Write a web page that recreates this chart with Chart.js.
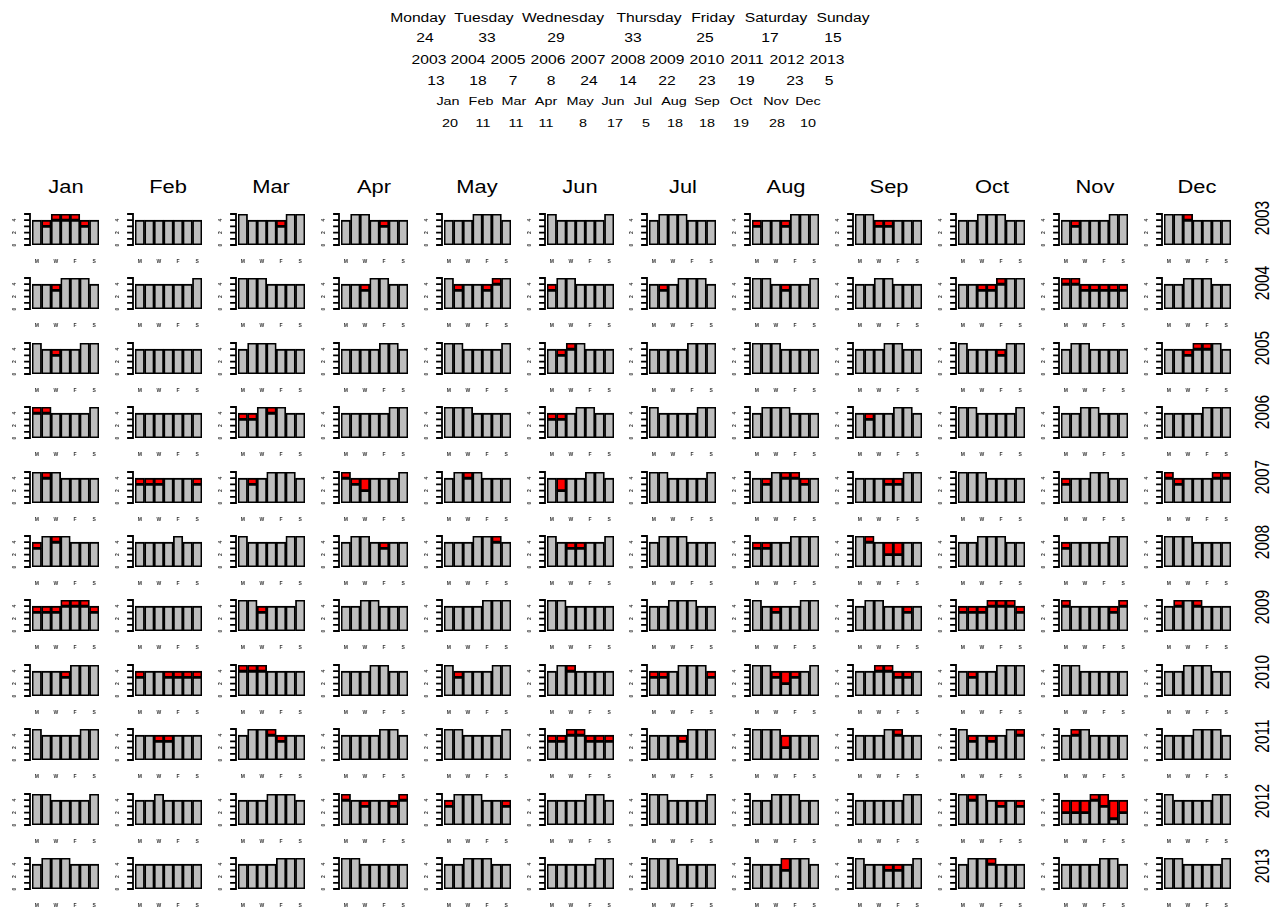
<!DOCTYPE html>
<html>
<head>
<meta charset="utf-8">
<script src="https://cdn.jsdelivr.net/npm/chart.js@4.4.1/dist/chart.umd.min.js"></script>
<style>
  body { margin: 0; background: #fff; }
  #page { position: relative; width: 1278px; height: 909px; font-family: "Liberation Sans", Arial, sans-serif; color: #000; }
  #page canvas { position: absolute; }
  .lbl { position: absolute; white-space: nowrap; transform: translate(-50%, -50%) scaleX(1.25); line-height: 1; }
  .head { font-size: 12.5px; }
  .small { font-size: 11.5px; }
  .month { font-size: 17.5px; }
  .year { font-size: 15.5px; transform: translate(-50%, -50%) scaleX(1.25) rotate(-90deg); }
</style>
</head>
<body>
<div id="page"></div>
<script>
const dayNames = ['Monday', 'Tuesday', 'Wednesday', 'Thursday', 'Friday', 'Saturday', 'Sunday'];
const dayLetters = ['M', 'T', 'W', 'T', 'F', 'S', 'S'];
const months = ['Jan', 'Feb', 'Mar', 'Apr', 'May', 'Jun', 'Jul', 'Aug', 'Sep', 'Oct', 'Nov', 'Dec'];
const years = [2003, 2004, 2005, 2006, 2007, 2008, 2009, 2010, 2011, 2012, 2013];
const yTicks = [0, 1, 2, 3, 4, 5];
const yTickLabels = [0, 2, 4];

// totals printed in the header
const dayTotals = [24, 33, 29, 33, 25, 17, 15];
const yearTotals = [13, 18, 7, 8, 24, 14, 22, 23, 19, 23, 5];
const monthTotals = [20, 11, 11, 11, 8, 17, 5, 18, 18, 19, 28, 10];

// how many of each weekday (Mon..Sun) a month has, and how many of those had a hit
const count2003 = ['4455544','4444444','5444455','4554444','4445554','5444445','4555444','4444555','5544444','4455544','4444455','5554444'];
const hits2003  = ['0111110','0000000','0000100','0000100','0000000','0000000','0000000','1001000','0011000','0000000','0100000','0010000'];
const count2004 = ['4445554','4444445','5554444','4445544','5444455','4554444','4445554','5544445','4455444','4444555','5544444','4455544'];
const hits2004  = ['0010000','0000000','0000000','0010000','0100110','1000000','0100000','0001000','0000000','0011100','1111111','0000000'];
const count2005 = ['5444455','4444444','4555444','4444554','5544445','4455444','4444555','5554444','4445544','5444455','4554444','4445554'];
const hits2005  = ['0010000','0000000','0000000','0000000','0000000','0110000','0000000','0000000','0000000','0000100','0000000','0011100'];
const count2006 = ['5544445','4444444','4455544','4444455','5554444','4445544','5444455','4555444','4444554','5544445','4455444','4444555'];
const hits2006  = ['1100000','0000000','1101000','0000000','0000000','1100000','0000000','0000000','0100000','0000000','0000000','0000000'];
const count2007 = ['5554444','4444444','4445554','5444445','4555444','4444554','5544445','4455544','4444455','5554444','4445544','5444455'];
const hits2007  = ['0100000','1110001','0100000','1120000','0010000','0200000','0000000','0101110','0001100','0000000','1000000','1100011'];
const count2008 = ['4555444','4444544','5444455','4554444','4445554','5444445','4555444','4444555','5544444','4455544','4444455','5554444'];
const hits2008  = ['1010000','0000000','0000000','0000100','0000010','0011000','0000000','1100000','0102200','0000000','1000000','0000000'];
const count2009 = ['4445554','4444444','5544445','4455444','4444555','5544444','4455544','5444455','4554444','4445554','5444445','4555444'];
const hits2009  = ['1111111','0000000','0010000','0000000','0000000','0000000','0000000','0010000','0000010','1111111','1000011','0101000'];
const count2010 = ['4444555','4444444','5554444','4445544','5444455','4554444','4445554','5544445','4455444','4444555','5544444','4455544'];
const hits2010  = ['0001000','1001111','1110000','0000000','0100000','0010000','1100001','0012100','0011110','0100000','0000000','0000000'];
const count2011 = ['5444455','4444444','4555444','4444554','5544445','4455444','4444555','5554444','4445544','5444455','4554444','4445554'];
const hits2011  = ['0000000','0011000','0001100','0000000','0000000','1111111','0001000','0002000','0000100','0101001','0100000','0000000'];
const count2012 = ['5544445','4454444','4445554','5444445','4555444','4444554','5544445','4455544','4444455','5554444','4445544','5444455'];
const hits2012  = ['0000000','0000000','0000000','1010011','1000001','0000000','0000000','0000000','0000000','0100101','2221232','0000000'];
const count2013 = ['4555444','4444444','4444555','5544444','4455544','4444455','5554444','4445554','5444445','4555444','4444554','5544445'];
const hits2013  = ['0000000','0000000','0000000','0000000','0000000','0000000','0000000','0002000','0001100','0001000','0000000','0000000'];

const countRows = [count2003, count2004, count2005, count2006, count2007, count2008, count2009, count2010, count2011, count2012, count2013];
const hitRows = [hits2003, hits2004, hits2005, hits2006, hits2007, hits2008, hits2009, hits2010, hits2011, hits2012, hits2013];

const page = document.getElementById('page');

function addLabel(text, x, y, cls) {
    const el = document.createElement('div');
    el.className = 'lbl ' + cls;
    el.textContent = text;
    el.style.left = x + 'px';
    el.style.top = y + 'px';
    page.appendChild(el);
}

// header: totals per weekday, year and month
const dayX = [418, 484, 563, 649, 713, 776, 843];
const dayNumX = [425, 487, 556, 633, 705, 770, 833];
const yearX = [429, 468, 508, 548, 588, 628, 667, 707, 747, 787, 827];
const yearNumX = [436, 478, 513, 551, 589, 628, 667, 707, 746, 795, 829];
const monthX = [448, 481, 514, 546, 580, 613, 643, 674, 707, 741, 776, 808];
const monthNumX = [450, 483, 516, 546, 583, 615, 646, 675, 707, 741, 777, 808];

dayNames.forEach((d, i) => {
    addLabel(d, dayX[i], 18, 'head');
    addLabel(dayTotals[i], dayNumX[i], 38, 'head');
});
years.forEach((y, i) => {
    addLabel(y, yearX[i], 60, 'head');
    addLabel(yearTotals[i], yearNumX[i], 81, 'head');
});
months.forEach((m, i) => {
    addLabel(m, monthX[i], 102, 'small');
    addLabel(monthTotals[i], monthNumX[i], 124, 'small');
});

// y axis with ticks 0..5 and the M/W/F/S letters, drawn off the chart's own scales
const panelAxes = {
    id: 'panelAxes',
    afterDraw(chart) {
        const { ctx, chartArea: a, scales: { x, y } } = chart;
        const ax = Math.round(a.left) - 2;
        ctx.save();
        ctx.strokeStyle = '#000';
        ctx.lineWidth = 1.8;
        ctx.lineCap = 'square';
        ctx.beginPath();
        ctx.moveTo(ax, y.getPixelForValue(0));
        ctx.lineTo(ax, y.getPixelForValue(5));
        yTicks.forEach(v => {
            const py = y.getPixelForValue(v);
            ctx.moveTo(ax, py);
            ctx.lineTo(ax - 5, py);
        });
        ctx.stroke();

        ctx.fillStyle = '#333';
        ctx.font = 'bold 5px "Liberation Sans", Arial, sans-serif';
        ctx.textAlign = 'center';
        ctx.textBaseline = 'middle';
        yTickLabels.forEach(v => {
            ctx.save();
            ctx.translate(ax - 15, y.getPixelForValue(v));
            ctx.rotate(-Math.PI / 2);
            ctx.fillText(String(v), 0, 0);
            ctx.restore();
        });
        dayLetters.forEach((l, i) => {
            if (i % 2 === 0) ctx.fillText(l, x.getPixelForValue(i), a.bottom + 17);
        });
        ctx.restore();
    }
};

// grid of small bar charts
const colStep = 102.9, rowStep = 64.4;
const plotLeft = 32, plotTop = 214, plotW = 67, plotH = 31;
const padLeft = 20, padRight = 2, padTop = 2, padBottom = 22;

function drawPanel(left, top, counts, hits) {
    const canvas = document.createElement('canvas');
    canvas.width = padLeft + plotW + padRight;
    canvas.height = padTop + plotH + padBottom;
    canvas.style.left = (left - padLeft) + 'px';
    canvas.style.top = (top - padTop) + 'px';
    page.appendChild(canvas);

    const n = counts.split('').map(Number);
    const h = hits.split('').map(Number);

    new Chart(canvas, {
        type: 'bar',
        data: {
            labels: dayLetters,
            datasets: [{
                data: n.map((v, i) => v - h[i]),
                backgroundColor: '#bebebe',
                borderColor: '#000',
                borderWidth: 1.8,
                borderSkipped: false
            }, {
                data: h.map(v => v || null),
                backgroundColor: '#ff0000',
                borderColor: '#000',
                borderWidth: 1.8,
                borderSkipped: false
            }]
        },
        options: {
            responsive: false,
            animation: false,
            events: [],
            layout: { padding: { top: padTop, right: padRight, left: padLeft, bottom: padBottom } },
            datasets: { bar: { barPercentage: 1, categoryPercentage: 1 } },
            plugins: { legend: { display: false }, tooltip: { enabled: false } },
            scales: {
                x: { stacked: true, display: false },
                y: { stacked: true, display: false, min: 0, max: 5 }
            }
        },
        plugins: [panelAxes]
    });
}

months.forEach((m, c) => {
    addLabel(m, plotLeft + plotW / 2 + c * colStep, 188, 'month');
});
years.forEach((y, r) => {
    addLabel(y, 1262, 218 + r * 64.8, 'year');
    months.forEach((m, c) => {
        drawPanel(plotLeft + c * colStep, plotTop + r * rowStep, countRows[r][c], hitRows[r][c]);
    });
});
</script>
</body>
</html>
